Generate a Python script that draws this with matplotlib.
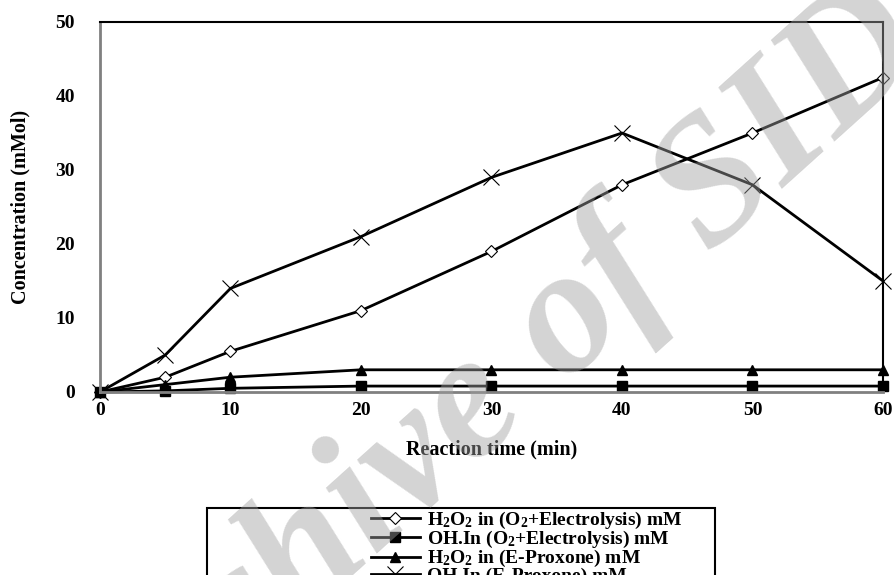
import matplotlib
matplotlib.use("Agg")
import matplotlib.pyplot as plt
from matplotlib.patches import Rectangle

plt.rcParams['font.family'] = ['Liberation Serif', 'DejaVu Serif']
plt.rcParams['font.weight'] = 'bold'
plt.rcParams['mathtext.fontset'] = 'custom'
plt.rcParams['mathtext.rm'] = 'Liberation Serif:bold'
plt.rcParams['mathtext.default'] = 'rm'

# temps de réaction (min)
time = [0, 5, 10, 20, 30, 40, 50, 60]

# concentrations (mMol)
h2o2_elec = [0, 2, 5.5, 11, 19, 28, 35, 42.5]
oh_elec = [0, 0.15, 0.5, 0.8, 0.8, 0.8, 0.8, 0.8]
h2o2_prox = [0, 1, 2, 3, 3, 3, 3, 3]
oh_prox = [0, 5, 14, 21, 29, 35, 28, 15]

labels = [r'H$_2$O$_2$ in (O$_2$+Electrolysis) mM',
          r'OH.In (O$_2$+Electrolysis) mM',
          r'H$_2$O$_2$ in (E-Proxone) mM',
          r'OH.In (E-Proxone) mM']

fig = plt.figure(figsize=(8.95, 5.75), dpi=100)
ax = fig.add_axes([100/895, 1-392/575, 783/895, 370/575])

ax.plot(time, h2o2_elec, color='black', lw=2, marker='D', ms=6.5,
        mfc='white', mec='black', mew=0.8, label=labels[0], clip_on=False)
ax.plot(time, oh_elec, color='black', lw=2, marker='s', ms=7.5,
        label=labels[1], clip_on=False)
ax.plot(time, h2o2_prox, color='black', lw=2, marker='^', ms=7,
        label=labels[2], clip_on=False)
ax.plot(time, oh_prox, color='black', lw=2, marker='x', ms=12,
        mew=0.8, label=labels[3], clip_on=False)

ax.set_xlim(0, 60)
ax.set_ylim(0, 50)
ax.set_xticks([0, 10, 20, 30, 40, 50, 60])
ax.set_yticks([0, 10, 20, 30, 40, 50])
ax.tick_params(length=0, labelsize=14)
ax.tick_params(axis='x', pad=7)
ax.tick_params(axis='y', pad=18)

ax.spines['left'].set_color('#808080')
ax.spines['bottom'].set_color('#808080')
ax.spines['left'].set_linewidth(2)
ax.spines['bottom'].set_linewidth(2)
ax.spines['top'].set_linewidth(1.5)
ax.spines['right'].set_linewidth(1.5)

ax.set_xlabel('Reaction time (min)', fontsize=14.5, fontweight='bold', labelpad=15)
ax.set_ylabel('Concentration (mMol)', fontsize=14.5, fontweight='bold', labelpad=18)

# cadre de la légende (coupé en bas)
fig.patches.append(Rectangle((207/895, -0.05), 508/895, 0.05 + (1-508/575),
                             transform=fig.transFigure, fill=False,
                             edgecolor='black', lw=1.5))
fig.legend(loc='upper left', bbox_to_anchor=(371/895, 1-510/575),
           frameon=False, fontsize=14, handlelength=2.5, handletextpad=0.4,
           labelspacing=-0.1, borderaxespad=0, borderpad=0)

# filigrane
fig.text(488/895, 1-402/575, 'Archive of SID', fontsize=130, style='italic',
         fontweight='bold', color='#a0a0a0', alpha=0.45, rotation=42,
         ha='center', va='center', rotation_mode='anchor', zorder=10)

fig.savefig('out.png', dpi=100)
